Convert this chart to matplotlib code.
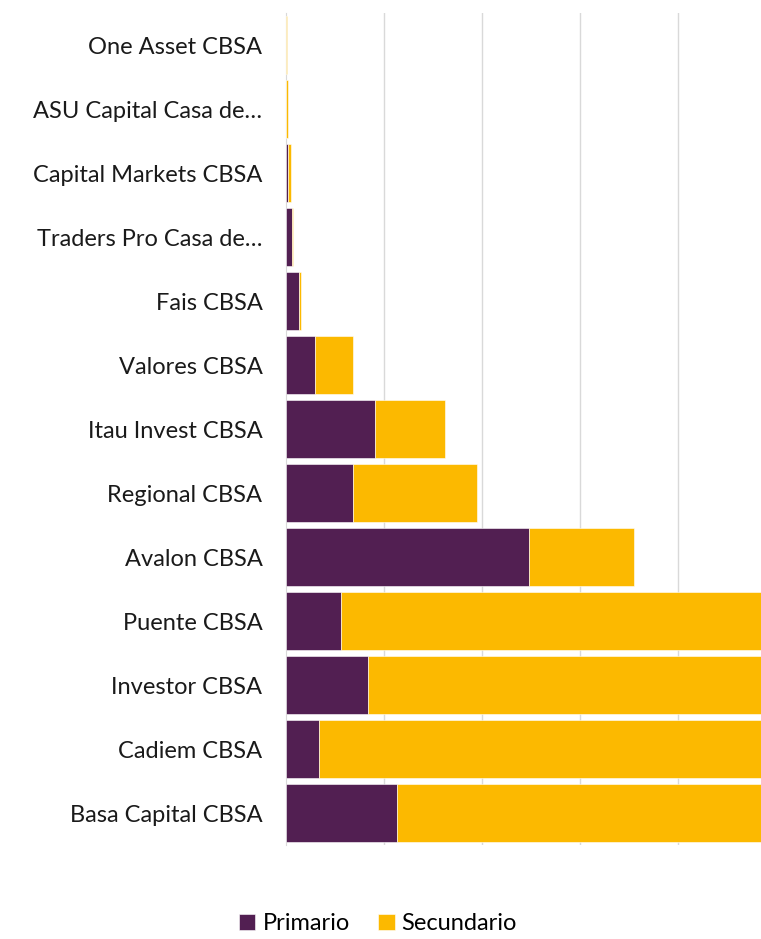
import matplotlib.pyplot as plt
import numpy as np

categories = [
    "One Asset CBSA",
    "ASU Capital Casa de\u2026",
    "Capital Markets CBSA",
    "Traders Pro Casa de\u2026",
    "Fais CBSA",
    "Valores CBSA",
    "Itau Invest CBSA",
    "Regional CBSA",
    "Avalon CBSA",
    "Puente CBSA",
    "Investor CBSA",
    "Cadiem CBSA",
    "Basa Capital CBSA",
]
primario = [0.1, 0.2, 0.8, 3.2, 6.6, 14.8, 45.4, 34.2, 124.0, 28.0, 41.8, 16.8, 56.6]
secundario = [0.4, 1.0, 2.0, 0.3, 0.8, 19.4, 35.7, 63.3, 53.6, 380.0, 420.0, 350.0, 300.0]

color_prim = "#521F52"
color_sec = "#FCB900"

plt.rcParams['font.family'] = ['Lato', 'DejaVu Sans']

fig = plt.figure(figsize=(7.61, 9.39), dpi=100)
ax = fig.add_axes([286 / 761, 94 / 939, 475 / 761, 832 / 939])

y = np.arange(len(categories))
ax.barh(y, primario, height=0.9, color=color_prim, edgecolor="white", linewidth=0.4, label="Primario", zorder=3)
ax.barh(y, secundario, left=primario, height=0.9, color=color_sec, edgecolor="white", linewidth=0.4, label="Secundario", zorder=3)

ax.set_ylim(len(categories) - 0.5, -0.5)
ax.set_xlim(0, 475 / 98 * 50)
ax.set_xticks([50, 100, 150, 200])
ax.set_xticklabels([])
ax.tick_params(axis="x", length=0)
ax.tick_params(axis="y", length=0, pad=17, labelsize=17, labelcolor="#1a1a1a")
ax.set_yticks(y)
ax.set_yticklabels(categories)
ax.grid(axis="x", color="#D9D9D9", linewidth=1, zorder=0)
for s in ["top", "right", "bottom"]:
    ax.spines[s].set_visible(False)
ax.spines["left"].set_color("#D9D9D9")
ax.spines["left"].set_zorder(2)

fig.legend(handles=ax.get_legend_handles_labels()[0], labels=["Primario", "Secundario"],
           loc="lower center", bbox_to_anchor=(378 / 761, 0.0), borderaxespad=0.1,
           borderpad=0.1, ncol=2, frameon=False,
           fontsize=17, handlelength=0.7, handleheight=0.7, handletextpad=0.3, columnspacing=1.2)

fig.savefig("out.png", dpi=100)
